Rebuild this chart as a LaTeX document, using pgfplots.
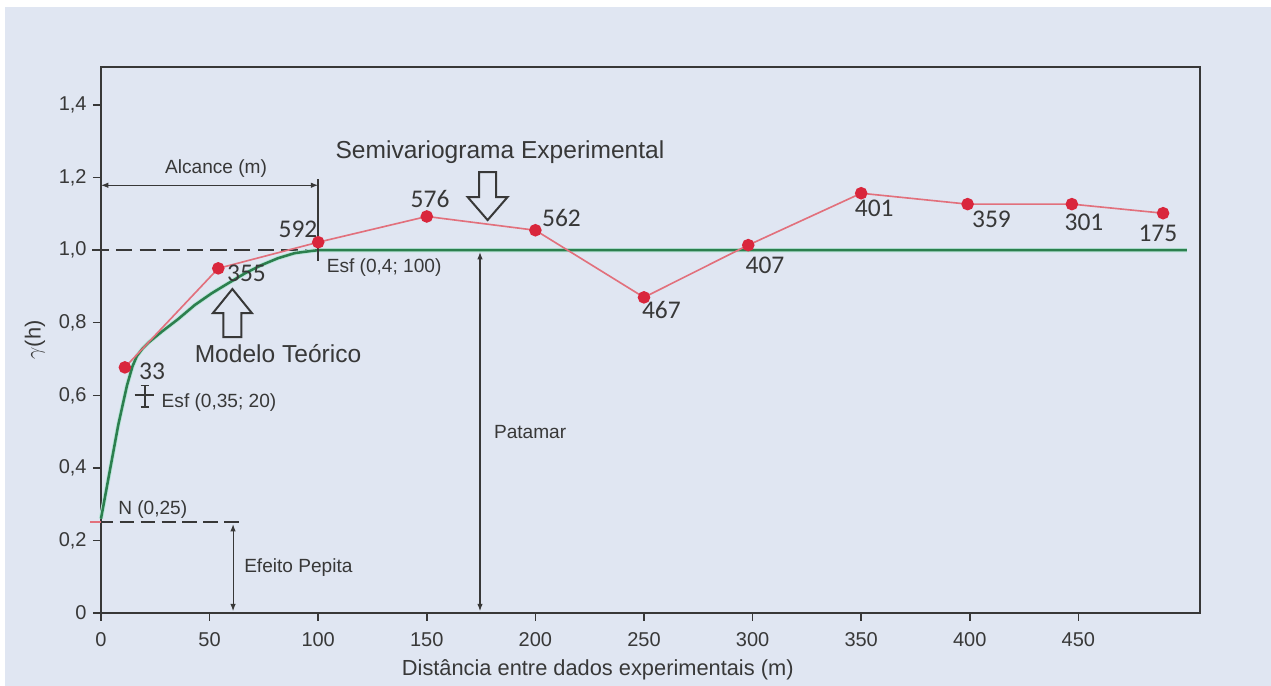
\documentclass[border=0pt]{standalone}
\usepackage{pgfplots}
\pgfplotsset{compat=1.18}
\usepackage{fontspec}
\setmainfont{Liberation Sans}
\newfontfamily\numfont{Carlito}
\usetikzlibrary{arrows.meta}

\definecolor{bgc}{HTML}{E0E6F2}
\definecolor{ink}{HTML}{383838}
\definecolor{expline}{HTML}{E2707C}
\definecolor{expdot}{HTML}{D9263C}
\definecolor{modgreen}{HTML}{2C7F4E}
\definecolor{modhalo}{HTML}{BCE6DC}

\begin{document}
\begin{tikzpicture}
% page and panel background
\path[use as bounding box, fill=white] (0,0) rectangle (699.05pt,377.3pt);
\fill[bgc] (2.75pt,0) rectangle (699.05pt,373.45pt);

\begin{axis}[
  at={(55.55pt,40.15pt)}, anchor=south west,
  scale only axis, width=604.45pt, height=300.3pt,
  xmin=0, xmax=506, ymin=0, ymax=1.505,
  clip=false,
  axis line style={ink, line width=1pt},
  tick style={ink, line width=0.8pt},
  tick align=outside, major tick length=4.4pt,
  xtick pos=bottom, ytick pos=left,
  xtick={0,50,...,450},
  ytick={0,0.2,...,1.4},
  yticklabels={0,{0,2},{0,4},{0,6},{0,8},{1,0},{1,2},{1,4}},
  /pgf/number format/assume math mode=true,
  ticklabel style={font=\fontsize{11}{13}\selectfont, text=ink},
  xticklabel style={yshift=-3pt},
  xlabel={Distância entre dados experimentais (m)},
  ylabel={$\gamma$(h)},
  xlabel style={at={(axis description cs:0.452,-0.104)}, anchor=center,
    font=\fontsize{12}{14}\selectfont, text=ink},
  ylabel style={at={(axis description cs:-0.06,0.5)}, anchor=center, rotate=0,
    font=\fontsize{12}{14}\selectfont, text=ink},
]

% sill reference line and nugget line
\draw[ink, line width=1pt, dash pattern=on 9pt off 4pt] (axis cs:-4,1) -- (axis cs:100,1);
\draw[ink, line width=1pt, dash pattern=on 8pt off 3.5pt] (axis cs:-1,0.25) -- (axis cs:65,0.25);
\draw[expline, line width=1pt] (axis cs:-5,0.25) -- (axis cs:0,0.25);

% theoretical model (nugget + two spherical structures)
\addplot[modhalo, line width=2.4pt, forget plot] coordinates {
(0,0.26) (4,0.39) (8,0.52) (12,0.628) (14.5,0.68) (16.5,0.708) (19,0.728)
(22,0.746) (27.9,0.775) (35.5,0.81) (43.2,0.849) (50.9,0.881) (58.6,0.909)
(66.2,0.936) (73.9,0.959) (81.5,0.978) (89.2,0.992) (96.9,0.998) (100,1.0) (500,1.0)};
\addplot[modgreen, line width=1.4pt] coordinates {
(0,0.26) (4,0.39) (8,0.52) (12,0.628) (14.5,0.68) (16.5,0.708) (19,0.728)
(22,0.746) (27.9,0.775) (35.5,0.81) (43.2,0.849) (50.9,0.881) (58.6,0.909)
(66.2,0.936) (73.9,0.959) (81.5,0.978) (89.2,0.992) (96.9,0.998) (100,1.0) (500,1.0)};

% experimental semivariogram
\addplot[expline, line width=0.9pt, mark=*, mark size=3pt,
  mark options={fill=expdot, draw=expdot}] coordinates {
(11,0.677) (54,0.950) (100,1.022) (150,1.093) (200,1.055) (250,0.870)
(298,1.014) (350,1.157) (399,1.127) (447,1.127) (489,1.102)};

% number of pairs per lag
\begin{scope}[every node/.style={font=\numfont\fontsize{14}{16}\selectfont, text=ink}]
\node at (axis cs:23.5,0.667) {33};
\node at (axis cs:67,0.937) {355};
\node at (axis cs:90.7,1.058) {592};
\node at (axis cs:151.5,1.141) {576};
\node at (axis cs:212,1.088) {562};
\node at (axis cs:258,0.835) {467};
\node at (axis cs:305.7,0.959) {407};
\node at (axis cs:356,1.116) {401};
\node at (axis cs:410,1.086) {359};
\node at (axis cs:452.6,1.077) {301};
\node at (axis cs:486.6,1.047) {175};
\end{scope}

% range
\draw[ink, line width=0.6pt, {Latex[length=4pt,width=3pt]}-{Latex[length=4pt,width=3pt]}]
  (axis cs:0,1.179) -- (axis cs:100,1.179);
\draw[ink, line width=0.8pt] (axis cs:100,1.195) -- (axis cs:100,0.97);
\node[font=\fontsize{10.5}{12}\selectfont, text=ink] at (axis cs:53,1.226) {Alcance (m)};

% sill and nugget effect
\draw[ink, line width=0.6pt, {Latex[length=4pt,width=3pt]}-{Latex[length=4pt,width=3pt]}]
  (axis cs:174.5,0.995) -- (axis cs:174.5,0.005);
\node[anchor=west, font=\fontsize{10.5}{12}\selectfont, text=ink] at (axis cs:178,0.499) {Patamar};
\draw[ink, line width=0.6pt, {Latex[length=4pt,width=3pt]}-{Latex[length=4pt,width=3pt]}]
  (axis cs:60.8,0.245) -- (axis cs:60.8,0.005);
\node[anchor=west, font=\fontsize{10.5}{12}\selectfont, text=ink] at (axis cs:63,0.124) {Efeito Pepita};
\node[anchor=west, font=\fontsize{10.5}{12}\selectfont, text=ink] at (axis cs:5,0.284) {N (0,25)};

% spherical structures
\draw[ink, line width=0.7pt] (axis cs:18.3,0.628) -- (axis cs:22.3,0.628)
  (axis cs:20.3,0.628) -- (axis cs:20.3,0.568)
  (axis cs:18.3,0.568) -- (axis cs:22.3,0.568)
  (axis cs:15.5,0.601) -- (axis cs:24.5,0.601);
\node[anchor=west, font=\fontsize{10.5}{12}\selectfont, text=ink] at (axis cs:25,0.579) {Esf (0,35; 20)};
\node[anchor=west, font=\fontsize{10.5}{12}\selectfont, text=ink] at (axis cs:101,0.951) {Esf (0,4; 100)};

% titles with hollow arrows
\node[font=\fontsize{13.5}{16}\selectfont, text=ink] at (axis cs:183.7,1.270) {Semivariograma Experimental};
\draw[ink, line width=1.1pt, fill=bgc, line join=miter]
  (axis cs:178,1.083) -- ++(-11pt,12.7pt) -- ++(6.3pt,0) -- ++(0,13.7pt)
  -- ++(9.4pt,0) -- ++(0,-13.7pt) -- ++(6.3pt,0) -- cycle;
\node[font=\fontsize{13.5}{16}\selectfont, text=ink] at (axis cs:81.5,0.714) {Modelo Teórico};
\draw[ink, line width=1.1pt, fill=bgc, line join=miter]
  (axis cs:60.5,0.893) -- ++(-10.7pt,-13.2pt) -- ++(5.7pt,0) -- ++(0,-13.2pt)
  -- ++(10pt,0) -- ++(0,13.2pt) -- ++(5.7pt,0) -- cycle;
\end{axis}
\end{tikzpicture}
\end{document}
